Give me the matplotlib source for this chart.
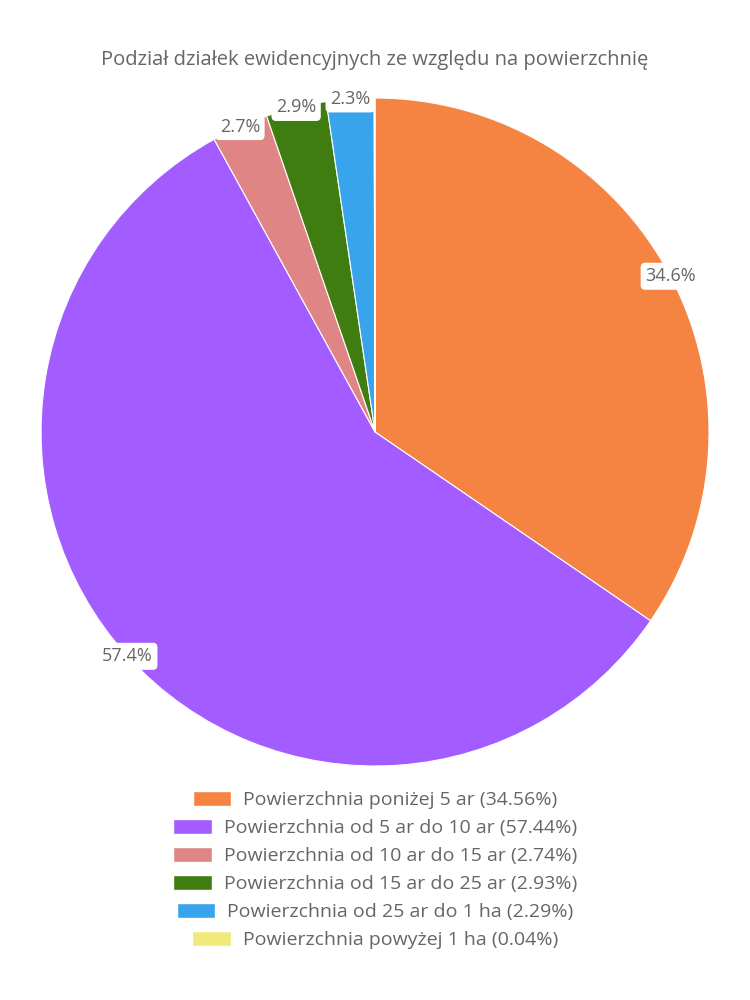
import numpy as np
import matplotlib.pyplot as plt
from matplotlib.patches import Patch

plt.rcParams['font.family'] = ['Open Sans', 'DejaVu Sans']

# Data
categories = [
    "Powierzchnia poniżej 5 ar",
    "Powierzchnia od 5 ar do 10 ar",
    "Powierzchnia od 10 ar do 15 ar",
    "Powierzchnia od 15 ar do 25 ar",
    "Powierzchnia od 25 ar do 1 ha",
    "Powierzchnia powyżej 1 ha",
]
shares = [34.56, 57.44, 2.74, 2.93, 2.29, 0.04]
colors = ["#F58442", "#A25CFF", "#E08585", "#3F7D10", "#38A4EC", "#F0EA7D"]

text_color = "#666666"

fig = plt.figure(figsize=(7.5, 10), dpi=100)
ax = fig.add_axes([0.0547, 0.234, 0.8907, 0.668])

wedges, _ = ax.pie(shares, colors=colors, startangle=90, counterclock=False,
                   radius=1.0, wedgeprops=dict(edgecolor="white", linewidth=0.8))
ax.set_xlim(-1, 1)
ax.set_ylim(-1, 1)
ax.set_aspect("equal")

# Percentage labels at the outer edge of each slice
for w, s in zip(wedges, shares):
    if s < 1:
        continue
    ang = np.deg2rad((w.theta1 + w.theta2) / 2)
    x, y = np.cos(ang), np.sin(ang)
    ax.text(x, y, f"{s:.1f}%", ha="center", va="center", fontsize=13,
            color=text_color,
            bbox=dict(boxstyle="round,pad=0.25,rounding_size=0.25",
                      facecolor="white", edgecolor="none"))

fig.text(0.5, 0.94, "Podział działek ewidencyjnych ze względu na powierzchnię",
         ha="center", va="center", fontsize=14.5, color=text_color)

# Legend, one centred row per category
row_y = 0.2
for name, s, c in zip(categories, shares, colors):
    handle = Patch(facecolor=c, edgecolor="white")
    fig.legend([handle], [f"{name} ({s:.2f}%)"], loc="center",
               bbox_to_anchor=(0.5, row_y), frameon=False,
               fontsize=14, handlelength=2.0, handleheight=0.8,
               handletextpad=0.6, borderpad=0, labelcolor=text_color)
    row_y -= 0.028

fig.savefig("out.png", dpi=100)
